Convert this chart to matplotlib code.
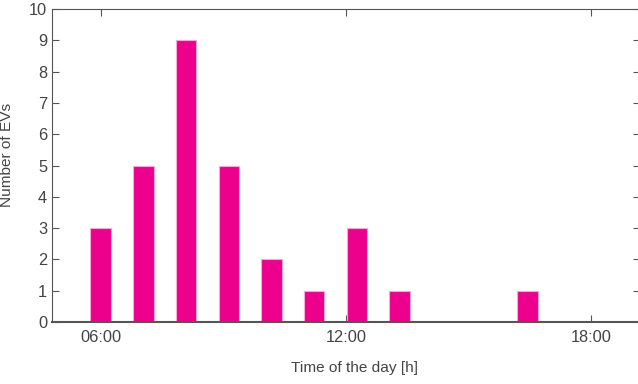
import numpy as np
import matplotlib.pyplot as plt

plt.rcParams['font.family'] = ['Liberation Sans', 'DejaVu Sans']

# arrivals per bin (hours of the day)
bin_start = 6.0
bin_step = 1.045
counts = [3, 5, 9, 5, 2, 1, 3, 1, 0, 0, 1]
tick_hours = [6, 12, 18]
tick_labels = ['06:00', '12:00', '18:00']

centers = bin_start + bin_step * np.arange(len(counts))

grey = '#555555'
text_grey = '#444444'
fig = plt.figure(figsize=(6.38, 3.84), dpi=100)
ax = fig.add_axes([52 / 638, 1 - 322 / 384, 588 / 638, 313 / 384])

ax.bar(centers, counts, width=0.5, color='#ec008c', edgecolor='#f8a8d4',
       linewidth=0.8, zorder=3)

ax.set_xlim(4.81, 19.2)
ax.set_ylim(0, 10)
ax.set_xticks(tick_hours)
ax.set_xticklabels(tick_labels)
ax.set_yticks(range(11))

ax.tick_params(direction='in', top=True, right=True, colors=grey,
               labelcolor=text_grey, labelsize=11.8, length=5, width=0.8)
ax.tick_params(axis='x', pad=6)
for side in ['top', 'left', 'right']:
    ax.spines[side].set_color(grey)
    ax.spines[side].set_linewidth(0.8)
ax.spines['bottom'].set_color(grey)
ax.spines['bottom'].set_linewidth(1.5)
ax.spines['bottom'].set_zorder(4)

ax.set_xlabel('Time of the day [h]', fontsize=11.1, color=text_grey, labelpad=12)
ax.set_ylabel('Number of EVs', fontsize=11.1, color=text_grey, labelpad=6)
ax.xaxis.set_label_coords(0.514, -0.125)
ax.yaxis.set_label_coords(-0.064, 0.535)

fig.savefig('out.png', dpi=100)
